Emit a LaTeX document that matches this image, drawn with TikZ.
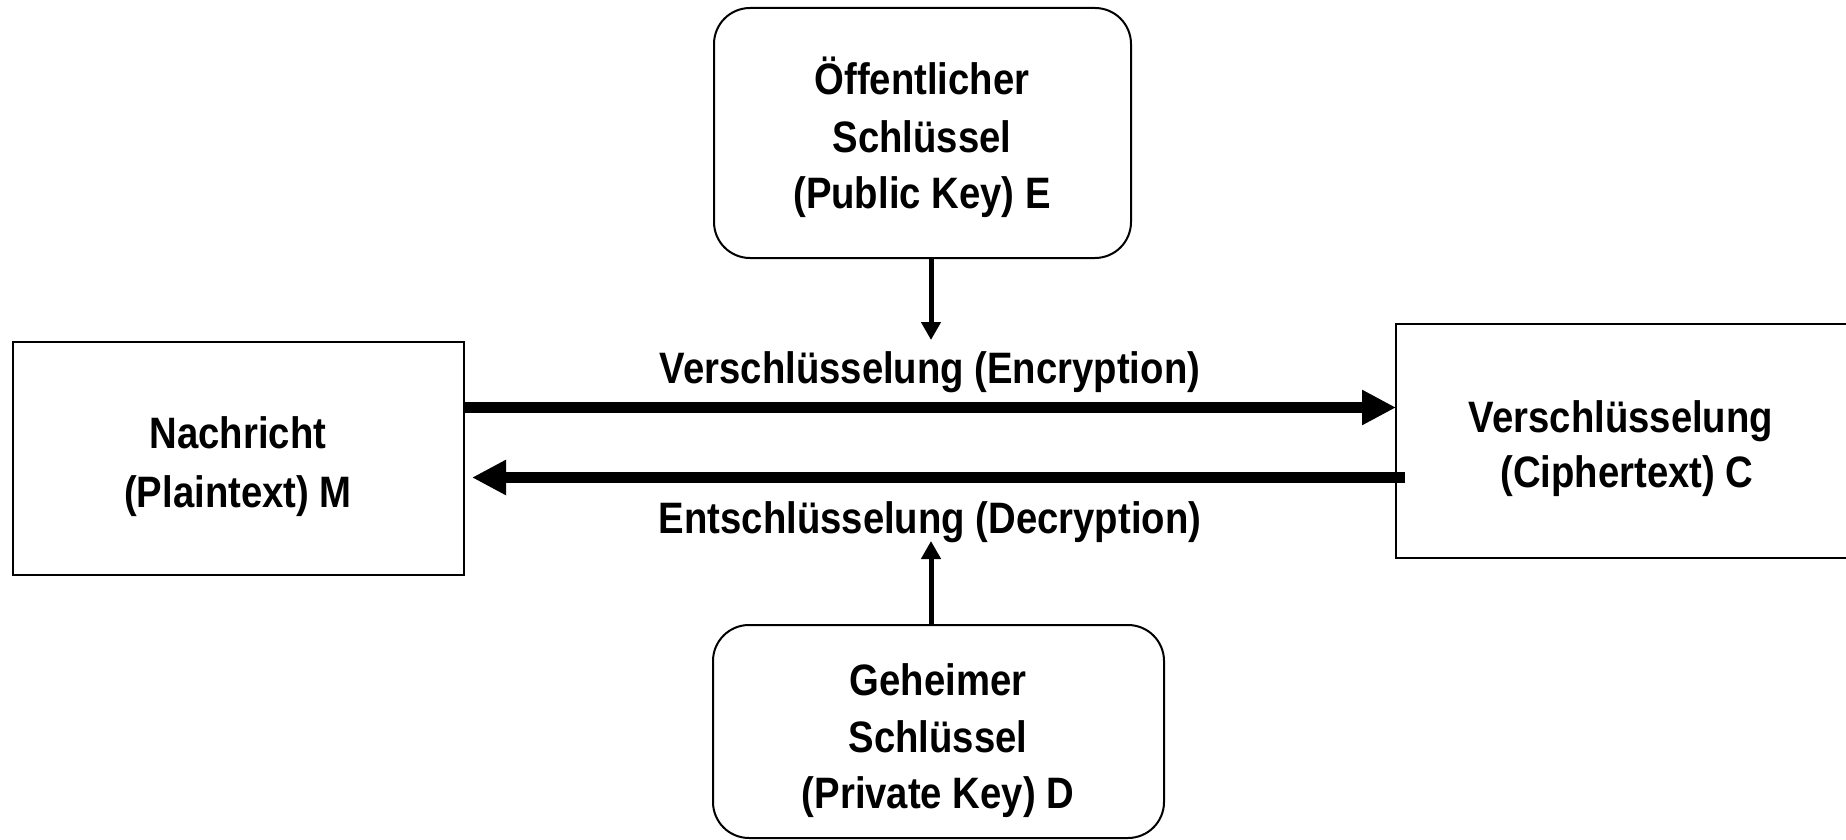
\documentclass[tikz,border=0pt]{standalone}
\usepackage{fontspec}
\newfontfamily\narrowfont{Liberation Sans}[FakeStretch=0.87]
\usetikzlibrary{arrows.meta}

\tikzset{
  box/.style={draw, line width=2pt, inner sep=0pt, outer sep=0pt},
  keybox/.style={box, rounded corners=36pt},
  txt/.style={font=\narrowfont\bfseries\fontsize{44}{52}\selectfont, anchor=base, inner sep=0pt},
  bigarrow/.style={line width=11pt, -{Triangle[length=34pt,width=33pt]}},
  smallarrow/.style={line width=5pt, -{Triangle[length=18pt,width=19pt]}}
}

\begin{document}
\begin{tikzpicture}[x=1pt, y=-1pt]
  \useasboundingbox (0,0) rectangle (1846,840);
  \clip (0,0) rectangle (1846,840);

  % boxes
  \node[keybox, minimum width=417pt, minimum height=250pt] (pub)  at (922.5,133) {};
  \node[box,    minimum width=451pt, minimum height=233pt] (msg)  at (238.5,458.5) {};
  \node[box,    minimum width=452pt, minimum height=234pt] (ciph) at (1622,441) {};
  \node[keybox, minimum width=451pt, minimum height=213pt] (priv) at (938.5,731.5) {};

  % box texts
  \node[txt] (pubA) at (922,95)  {Öffentlicher};
  \node[txt] (pubB) at (922,152) {Schlüssel};
  \node[txt] (pubC) at (922,208) {(Public Key) E};

  \node[txt] (msgA) at (238,448) {Nachricht};
  \node[txt] (msgB) at (238,507) {(Plaintext) M};

  \node[txt] (ciphA) at (1621,432) {Verschlüsselung};
  \node[txt] (ciphB) at (1627,487) {(Ciphertext) C};

  \node[txt] (privA) at (938,695) {Geheimer};
  \node[txt] (privB) at (938,752) {Schlüssel};
  \node[txt] (privC) at (938,808) {(Private Key) D};

  % arrow labels
  \node[txt] (enc) at (930,383) {Verschlüsselung (Encryption)};
  \node[txt] (dec) at (930,533) {Entschlüsselung (Decryption)};

  % key arrows
  \coordinate (encIn) at (931,340);
  \coordinate (decIn) at (931,541);
  \draw[smallarrow] (pub.south -| encIn) -- (encIn);
  \draw[smallarrow] (priv.north -| decIn) -- (decIn);

  % encryption and decryption arrows
  \draw[bigarrow] (msg.east |- 0,407.5) -- (ciph.west |- 0,407.5);
  \draw[bigarrow] ([xshift=9pt]ciph.west |- 0,477.5) -- ([xshift=8pt]msg.east |- 0,477.5);
\end{tikzpicture}
\end{document}
